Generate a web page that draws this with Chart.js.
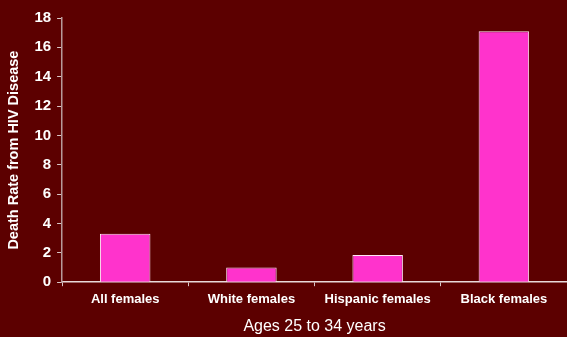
<!DOCTYPE html>
<html>
<head>
<meta charset="utf-8">
<script src="https://cdn.jsdelivr.net/npm/chart.js@4.4.0/dist/chart.umd.min.js"></script>
<style>
    html, body { margin: 0; padding: 0; background: #5c0000; }
    #wrap { width: 567px; height: 337px; }
</style>
</head>
<body>
<div id="wrap"><canvas id="myChart" width="567" height="337"></canvas></div>
<script>
const groups = ['All females', 'White females', 'Hispanic females', 'Black females'];
const deathRates = [3.3, 1.0, 1.85, 17.1];
const yTicks = [0, 2, 4, 6, 8, 10, 12, 14, 16, 18];

document.addEventListener('DOMContentLoaded', () => {
    drawChart();
});

function drawChart() {
    const ctx = document.getElementById('myChart');

    new Chart(ctx, {
        type: 'bar',
        data: {
            labels: groups,
            datasets: [{
                label: 'Death Rate from HIV Disease',
                data: deathRates,
                backgroundColor: '#ff33cc',
                borderColor: '#ffe6f5',
                borderWidth: 1,
                borderSkipped: 'bottom',
                categoryPercentage: 1,
                barPercentage: 0.4
            }]
        },
        options: {
            responsive: false,
            animation: false,
            layout: {
                padding: { top: 18, right: 0, bottom: 1, left: 5 }
            },
            plugins: {
                legend: { display: false },
                tooltip: { enabled: false }
            },
            scales: {
                x: {
                    offset: true,
                    grid: {
                        offset: true,
                        drawOnChartArea: false,
                        color: '#d9c6c6',
                        tickLength: 4
                    },
                    border: { color: '#e8dada', width: 1.5 },
                    ticks: {
                        color: '#ffffff',
                        font: { family: 'Liberation Sans, Arial, sans-serif', size: 13, weight: 'bold' },
                        padding: 5
                    },
                    title: {
                        display: true,
                        text: 'Ages 25 to 34 years',
                        color: '#ffffff',
                        font: { family: 'Liberation Sans, Arial, sans-serif', size: 16 },
                        padding: { top: 5, bottom: 0 }
                    }
                },
                y: {
                    min: 0,
                    max: 18,
                    afterBuildTicks: axis => {
                        axis.ticks = yTicks.map(v => ({ value: v }));
                    },
                    grid: {
                        drawOnChartArea: false,
                        color: '#d9c6c6',
                        tickLength: 5
                    },
                    border: { color: '#b89a9a', width: 1.5 },
                    ticks: {
                        color: '#ffffff',
                        font: { family: 'Liberation Sans, Arial, sans-serif', size: 15, weight: 'bold' },
                        padding: 6
                    },
                    title: {
                        display: true,
                        text: 'Death Rate from HIV Disease',
                        color: '#ffffff',
                        font: { family: 'Liberation Sans, Arial, sans-serif', size: 14.5, weight: 'bold' },
                        padding: { top: 0, bottom: 6 }
                    }
                }
            }
        }
    });
}
</script>
</body>
</html>
